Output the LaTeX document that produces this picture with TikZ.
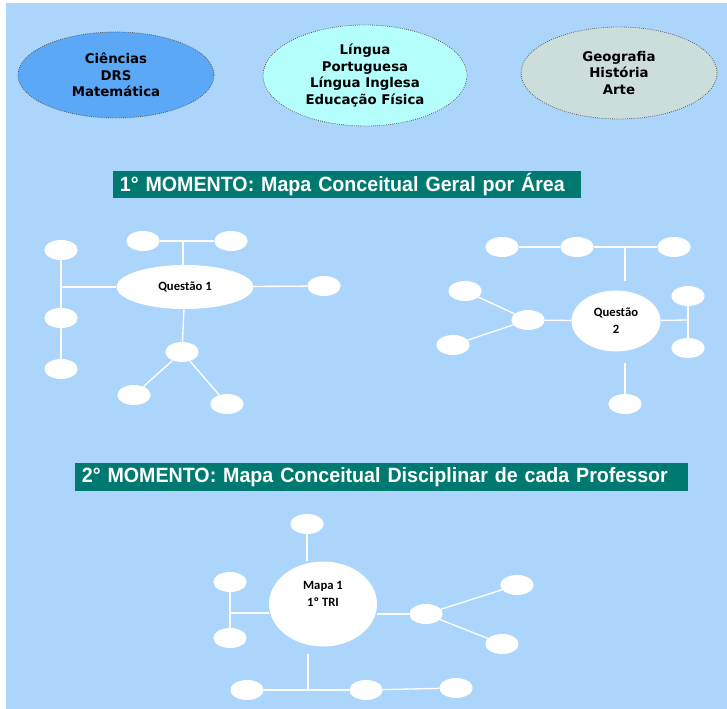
\documentclass[tikz,border=0pt]{standalone}
\usepackage{fontspec}
\setmainfont{Liberation Sans}
\newfontfamily\tahoma{DejaVu Sans}
\newfontfamily\calibri{Carlito}
\newfontfamily\narrow{Liberation Sans}[FakeStretch=0.95,WordSpace=1.6]
\usetikzlibrary{shapes.geometric}

\begin{document}
\begin{tikzpicture}[x=0.75pt,y=0.75pt,yscale=-1,xscale=1,
    area/.style={ellipse, draw={rgb, 255:red, 90; green, 90; blue, 90 }, densely dotted, line width=0.6pt, inner sep=0pt, align=center, font=\tahoma\bfseries\fontsize{10}{12.4}\selectfont},
    faixa/.style={fill={rgb, 255:red, 0; green, 122; blue, 112 }, text=white, anchor=west, inner xsep=5pt, inner ysep=0pt, minimum height=20.5pt, align=left, font=\narrow\bfseries\fontsize{15.5}{17}\selectfont},
    bolha/.style={ellipse, fill=white, inner sep=0pt, minimum width=25pt, minimum height=15pt},
    centro/.style={ellipse, fill=white, inner sep=0pt, align=center, font=\calibri\bfseries\fontsize{9.5}{12.5}\selectfont},
    linha/.style={draw=white, line width=1pt}
  ]
    \useasboundingbox (0,0) rectangle (727,709);
    %Shape: Rectangle [background]
    \fill [color={rgb, 255:red, 172; green, 213; blue, 252 }] (6,3) rectangle (727,709);

    %Shape: Ellipse [areas]
    \node [area, fill={rgb, 255:red, 90; green, 168; blue, 246 }, minimum width=147pt, minimum height=64.5pt] (area1) at (116,75) {Ciências\\DRS\\Matemática};
    \node [area, fill={rgb, 255:red, 180; green, 255; blue, 252 }, minimum width=153pt, minimum height=75.75pt] (area2) at (365,75.5) {Língua\\Portuguesa\\Língua Inglesa\\Educação Física};
    \node [area, fill={rgb, 255:red, 204; green, 222; blue, 220 }, minimum width=147pt, minimum height=69pt] (area3) at (619,73) {Geografia\\História\\Arte};

    %Text Node [momento 1]
    \node [faixa, text width=341pt] (momento1) at (113,184.5) {1° MOMENTO: Mapa Conceitual Geral por Área};

    %Shape: Ellipse [mapa geral 1]
    \node [centro, minimum width=102.75pt, minimum height=33pt] (q1) at (185,287) {Questão 1};
    \node [bolha] (c1a) at (61,250) {};
    \node [bolha] (c1b) at (61,318) {};
    \node [bolha] (c1c) at (61,369) {};
    \node [bolha] (c1d) at (143,241) {};
    \node [bolha] (c1e) at (231,241) {};
    \node [bolha] (c1f) at (324,286) {};
    \node [bolha] (c1g) at (182,352) {};
    \node [bolha] (c1h) at (134,395) {};
    \node [bolha] (c1i) at (227,404) {};
    \coordinate (j1a) at (61,287);
    \coordinate (j1b) at (183,241);
    %Straight Lines
    \draw [linha] (c1a) -- (c1b);
    \draw [linha] (c1b) -- (c1c);
    \draw [linha] (j1a) -- (q1);
    \draw [linha] (c1d) -- (c1e);
    \draw [linha] (j1b) -- (j1b |- q1.north);
    \draw [linha] (q1) -- (c1f);
    \draw [linha] (q1) -- (c1g);
    \draw [linha] (c1g) -- (c1h);
    \draw [linha] (c1g) -- (c1i);

    %Shape: Ellipse [mapa geral 2]
    \node [centro, minimum width=66.75pt, minimum height=45.75pt] (q2) at (616,321) {Questão\\2};
    \node [bolha] (c2j) at (502,247) {};
    \node [bolha] (c2k) at (577,247) {};
    \node [bolha] (c2l) at (674,247) {};
    \node [bolha] (c2m) at (528,320) {};
    \node [bolha] (c2n) at (465,291) {};
    \node [bolha] (c2o) at (453,345) {};
    \node [bolha] (c2p) at (688,296) {};
    \node [bolha] (c2q) at (688,348) {};
    \node [bolha] (c2r) at (625,404) {};
    \coordinate (j2a) at (625,247);
    \coordinate (f2a) at (625,281);
    \coordinate (j2b) at (688,320);
    \coordinate (f2b) at (625,363);
    %Straight Lines
    \draw [linha] (c2j) -- (c2k);
    \draw [linha] (c2k) -- (c2l);
    \draw [linha] (j2a) -- (f2a);
    \draw [linha] (c2m) -- (q2);
    \draw [linha] (c2m) -- (c2n);
    \draw [linha] (c2m) -- (c2o);
    \draw [linha] (c2p) -- (c2q);
    \draw [linha] (q2) -- (j2b);
    \draw [linha] (f2b) -- (c2r);

    %Text Node [momento 2]
    \node [faixa, text width=449.75pt] (momento2) at (75,477) {2° MOMENTO: Mapa Conceitual Disciplinar de cada Professor};

    %Shape: Ellipse [mapa disciplinar]
    \node [centro, minimum width=81pt, minimum height=63.75pt, label={[centro, fill=none, yshift=7.5pt]center:{Mapa 1\\1º TRI}}] (m1) at (323,604) {};
    \node [bolha] (c3s) at (307,524) {};
    \node [bolha] (c3t) at (426,614) {};
    \node [bolha] (c3u) at (517,585) {};
    \node [bolha] (c3v) at (502,644) {};
    \node [bolha] (c3w) at (230,582) {};
    \node [bolha] (c3x) at (230,638) {};
    \node [bolha] (c3y) at (247,690) {};
    \node [bolha] (c3z) at (366,690) {};
    \node [bolha] (c3aa) at (456,688) {};
    \coordinate (j3a) at (231,613);
    \coordinate (f3) at (308,654);
    \coordinate (j3b) at (308,690);
    %Straight Lines
    \draw [linha] (c3s) -- (c3s |- m1.north);
    \draw [linha] (m1.east |- c3t) -- (c3t);
    \draw [linha] (c3t) -- (c3u);
    \draw [linha] (c3t) -- (c3v);
    \draw [linha] (c3w) -- (c3x);
    \draw [linha] (j3a) -- (j3a -| m1.west);
    \draw [linha] (f3) -- (j3b);
    \draw [linha] (c3y) -- (c3z);
    \draw [linha] (c3z) -- (c3aa);

\end{tikzpicture}
\end{document}
